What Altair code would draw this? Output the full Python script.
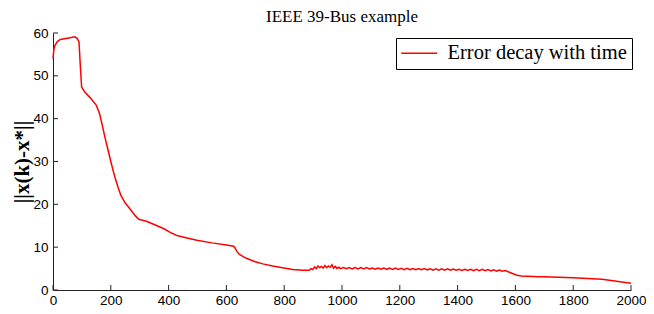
import altair as alt
import pandas as pd

x_vals = [0, 3, 7, 15, 25, 50, 76, 84, 90, 94, 99, 110, 130, 150, 161, 170, 181, 190, 200, 213,
          225, 235, 250, 270, 285, 297, 310, 321, 350, 384, 410, 429, 460, 498, 550, 600, 625, 630,
          636, 645, 669, 700, 726, 760, 794, 830, 863, 886,
          893, 899, 905, 911, 917, 923, 929, 935, 941, 947, 953, 959, 965, 971, 977, 983, 989, 995,
          1005, 1015, 1025, 1035, 1045, 1055, 1065, 1075, 1085, 1095,
          1105, 1115, 1125, 1135, 1145, 1155, 1165, 1175, 1185, 1195,
          1205, 1215, 1225, 1235, 1245, 1255, 1265, 1275, 1285, 1295,
          1305, 1315, 1325, 1335, 1345, 1355, 1365, 1375, 1385, 1395,
          1405, 1415, 1425, 1435, 1445, 1455, 1465, 1475, 1485, 1495,
          1505, 1515, 1525, 1535, 1545, 1555, 1565, 1575,
          1590, 1605, 1620, 1640, 1660, 1680, 1700, 1750, 1800, 1850, 1900, 1950, 2000]
y_vals = [54.0, 56.2, 57.1, 58.0, 58.5, 58.8, 59.1, 58.7, 57.9, 53.0, 47.4, 46.2, 44.8, 43.1, 41.2,
          38.6, 35.3, 32.8, 30.0, 26.6, 24.0, 22.1, 20.3, 18.6, 17.3, 16.5, 16.3, 16.1, 15.3, 14.3,
          13.3, 12.7, 12.2, 11.6, 11.0, 10.5, 10.2, 9.8, 9.0, 8.3, 7.4, 6.6, 6.1, 5.6, 5.2, 4.8, 4.6,
          4.6,
          5.0, 4.8, 5.4, 5.0, 5.6, 5.2, 5.5, 5.1, 5.7, 5.2, 5.6, 5.3, 5.9, 5.1, 5.5, 5.0, 5.3, 5.0,
          5.25, 4.95, 5.24, 4.94, 5.23, 4.93, 5.22, 4.92, 5.21, 4.91,
          5.15, 4.85, 5.14, 4.84, 5.13, 4.83, 5.12, 4.82, 5.11, 4.81,
          5.05, 4.75, 5.04, 4.74, 5.03, 4.73, 5.02, 4.72, 5.01, 4.71,
          4.95, 4.65, 4.94, 4.64, 4.93, 4.63, 4.92, 4.62, 4.91, 4.61,
          4.85, 4.55, 4.84, 4.54, 4.83, 4.53, 4.82, 4.52, 4.81, 4.51,
          4.75, 4.45, 4.72, 4.42, 4.68, 4.38, 4.55, 4.25,
          3.85, 3.45, 3.25, 3.2, 3.15, 3.1, 3.1, 3.0, 2.85, 2.7, 2.5, 2.05, 1.6]
series_name = "Error decay with time"
x_ticks = [0, 200, 400, 600, 800, 1000, 1200, 1400, 1600, 1800, 2000]
y_ticks = [0, 10, 20, 30, 40, 50, 60]

W, H = 578, 257

df = pd.DataFrame({"k": x_vals, "err": y_vals, "series": [series_name] * len(x_vals)})
dfx = pd.DataFrame({"t": x_ticks})
dfy = pd.DataFrame({"t": y_ticks})

xscale = alt.Scale(domain=[0, 2000], nice=False, zero=False)
yscale = alt.Scale(domain=[0, 60], nice=False, zero=False)

axis_common = dict(labelFont="Liberation Sans", labelFontSize=13.5, labelColor="black",
                   domainColor="#222", domainWidth=1, ticks=False, grid=False, labelFlush=False)

line = alt.Chart(df).mark_line(strokeWidth=1.5).encode(
    x=alt.X("k:Q", scale=xscale,
            axis=alt.Axis(values=x_ticks, title=None, labelPadding=3, format="d", **axis_common)),
    y=alt.Y("err:Q", scale=yscale,
            axis=alt.Axis(values=y_ticks, title="||x(k)-x*||", labelPadding=5,
                          titleFont="Liberation Serif", titleFontSize=21, titleFontWeight="bold",
                          titleColor="black", titleX=-31, titleY=H / 2, titleAngle=-90,
                          titleAlign="center", titleBaseline="middle", **axis_common)),
    color=alt.Color("series:N",
                    scale=alt.Scale(domain=[series_name], range=["#ff0000"]),
                    legend=alt.Legend(title=None, orient="none", legendX=343, legendY=5,
                                      padding=5, strokeColor="black", fillColor="white",
                                      symbolType="M-3,0H3", symbolSize=144, symbolStrokeWidth=1.5,
                                      symbolOffset=8,
                                      labelFont="Liberation Serif", labelFontSize=20.5,
                                      labelColor="black", labelOffset=18, cornerRadius=0,
                                      labelLimit=400)),
)

xt = alt.Chart(dfx).mark_rule(color="#222", strokeWidth=1).encode(
    x=alt.X("t:Q", scale=xscale), y=alt.value(H), y2=alt.value(H - 5))
yt = alt.Chart(dfy).mark_rule(color="#222", strokeWidth=1).encode(
    y=alt.Y("t:Q", scale=yscale), x=alt.value(0), x2=alt.value(5))

chart = alt.layer(line, xt, yt).properties(
    width=W, height=H,
    title=alt.TitleParams("IEEE 39-Bus example", font="Liberation Serif", fontSize=17,
                          fontWeight="normal", color="black", anchor="middle", offset=0),
    autosize=alt.AutoSizeParams(type="none"),
    padding={"left": 45, "top": 25, "right": 15, "bottom": 16},
).configure_view(stroke=None)

chart.save("out.html", embed_options={"renderer": "svg", "actions": False})
